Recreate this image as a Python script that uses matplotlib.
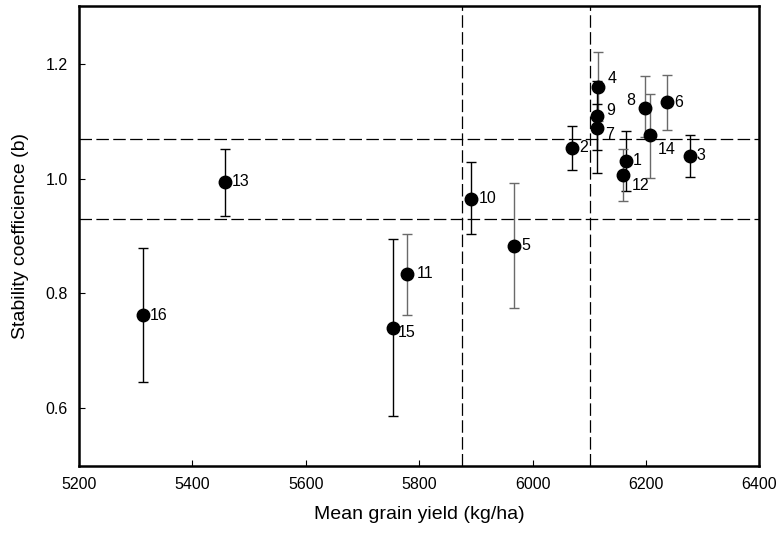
import numpy as np
import matplotlib
matplotlib.use("Agg")
from matplotlib import pyplot as plt

plt.rcParams['font.family'] = ['Liberation Sans', 'DejaVu Sans']

# genotype number, mean grain yield, stability coefficient b, error bar ends
genotype = ['1', '2', '3', '4', '5', '6', '7', '8', '9', '10', '11', '12', '13', '14', '15', '16']
yield_kg = [6164, 6070, 6277, 6115, 5968, 6237, 6114, 6199, 6113, 5892, 5779, 6160, 5458, 6208, 5753, 5313]
b_coef = [1.031, 1.054, 1.040, 1.160, 0.883, 1.133, 1.088, 1.123, 1.108, 0.965, 0.834, 1.007, 0.994, 1.075, 0.740, 0.762]
err_hi = [1.083, 1.092, 1.076, 1.221, 0.992, 1.180, 1.130, 1.178, 1.170, 1.028, 0.904, 1.052, 1.051, 1.148, 0.894, 0.879]
err_lo = [0.979, 1.015, 1.002, 1.100, 0.775, 1.084, 1.009, 1.073, 1.050, 0.904, 0.762, 0.961, 0.934, 1.001, 0.586, 0.645]
grey_bars = ['4', '5', '6', '8', '11', '12', '14']

mean_yield = [5875, 6102]
b_limits = [0.930, 1.068]

# label offsets in points (dx, dy)
offsets = {'4': (7, 6), '9': (7, 4), '7': (6, -5), '8': (-14, 5), '14': (5, -10),
           '12': (6, -8), '15': (4, -3), '11': (7, 0)}

fig = plt.figure(figsize=(7.81, 5.38), dpi=100)
ax = fig.add_axes([0.1012, 0.1342, 0.871, 0.8543])

for g, x, y, hi, lo in zip(genotype, yield_kg, b_coef, err_hi, err_lo):
    col = '#6a6a6a' if g in grey_bars else 'black'
    ax.errorbar(x, y, yerr=[[y - lo], [hi - y]], fmt='none', ecolor=col,
                elinewidth=1.0, capsize=3.5, capthick=1.0, zorder=2)
ax.plot(yield_kg, b_coef, 'o', color='black', markersize=9, zorder=3)

for g, x, y in zip(genotype, yield_kg, b_coef):
    dx, dy = offsets.get(g, (5, 0))
    ax.annotate(g, (x, y), xytext=(dx, dy), textcoords='offset points',
                ha='left', va='center', fontsize=11.5)

for v in mean_yield:
    ax.axvline(v, color='black', linestyle=(0, (10, 3.5)), linewidth=0.9, zorder=1)
for h in b_limits:
    ax.axhline(h, color='black', linestyle=(0, (10, 3.5)), linewidth=0.9, zorder=1)

ax.set_xlim(5200, 6400)
ax.set_ylim(0.5, 1.3)
ax.set_xticks(np.arange(5200, 6401, 200))
ax.set_yticks([0.6, 0.8, 1.0, 1.2])
ax.set_yticklabels(['0.6', '0.8', '1.0', '1.2'])
ax.tick_params(direction='in', length=4, width=0.8, labelsize=11.5, pad=8)
for s in ax.spines.values():
    s.set_linewidth(1.8)

ax.set_xlabel('Mean grain yield (kg/ha)', fontsize=14, labelpad=10)
ax.set_ylabel('Stability coefficience (b)', fontsize=14, labelpad=12)

fig.savefig('out.png', dpi=100)
